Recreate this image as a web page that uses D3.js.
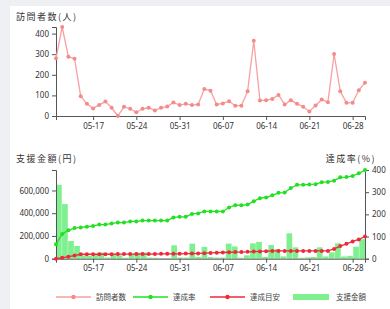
<!DOCTYPE html>
<html>
<head>
<meta charset="utf-8">
<script src="https://cdn.jsdelivr.net/npm/d3@7"></script>
<style>
body { margin: 0; background: #eef0f4; font-family: "Noto Sans CJK JP", "Noto Sans", sans-serif; }
.axis text { font-size: 8px; fill: #333; font-family: "Noto Sans", sans-serif; }
.axis path, .axis line { stroke: #555; }
.title { font-size: 9px; fill: #333; letter-spacing: 1.5px; }
.leg { font-size: 7.5px; fill: #444; }
</style>
</head>
<body>
<script>
var w = 390;
var h = 309;

var days = ["05-11","05-12","05-13","05-14","05-15","05-16","05-17","05-18","05-19","05-20",
    "05-21","05-22","05-23","05-24","05-25","05-26","05-27","05-28","05-29","05-30","05-31",
    "06-01","06-02","06-03","06-04","06-05","06-06","06-07","06-08","06-09","06-10",
    "06-11","06-12","06-13","06-14","06-15","06-16","06-17","06-18","06-19","06-20",
    "06-21","06-22","06-23","06-24","06-25","06-26","06-27","06-28","06-29","06-30"];
var tickDays = ["05-17","05-24","05-31","06-07","06-14","06-21","06-28"];

var visitors = [280,432,288,278,96,59,37,54,70,40,0,45,35,18,35,40,27,40,46,66,53,
    59,53,56,131,123,56,61,72,50,50,120,365,75,77,83,102,56,77,59,45,22,51,80,67,301,120,64,64,125,162];
var rate = [65,111,128,138,141,144,148,154,154,159,163,163,168,168,172,172,172,172,172,186,189,
    189,202,204,213,213,213,213,231,241,241,244,259,273,276,286,297,298,319,333,333,335,336,345,346,352,367,368,373,385,400];
var target = [0,4,9,14,20,20,20,20,20,20,21,21,21,21,21,21,21,22,22,22,22,
    23,23,24,25,26,27,28,29,30,30,31,32,33,34,35,35,35,35,35,35,35,35,35,35,44,57,67,78,87,100];
var amount = [650000,480000,155000,112000,30000,25000,35000,55000,10000,40000,30000,8000,40000,55000,55000,10000,8000,5000,5000,118000,10000,
    10000,132000,15000,103000,15000,10000,10000,133000,108000,8000,30000,135000,148000,15000,120000,85000,20000,223000,100000,8000,12000,15000,100000,20000,56000,135000,20000,25000,105000,172000];

var pink = "#f7a1a1", pinkDot = "#f48a8a";
var green = "#22e022", red = "#ee2a3a", barCol = "#7ff08f";

var svg = d3.select("body").append("svg").attr("width", w).attr("height", h);
svg.append("rect").attr("x", 10).attr("y", 6).attr("width", w - 10).attr("height", h - 6).attr("fill", "#fff");

var x = d3.scalePoint().domain(days).range([56, 365]);
var xb = d3.scaleBand().domain(days).range([56, 365]).paddingInner(0.06);

// top: visitors
var y1 = d3.scaleLinear().domain([0, d3.max(visitors)]).range([116, 27]);

svg.append("text").attr("class", "title").attr("x", 16).attr("y", 20).text("訪問者数(人)");

svg.append("g").attr("class", "axis").attr("transform", "translate(0,116)")
    .call(d3.axisBottom(x).tickValues(tickDays).tickSize(4).tickSizeOuter(4));
svg.append("g").attr("class", "axis").attr("transform", "translate(56,0)")
    .call(d3.axisLeft(y1).ticks(4).tickSize(4).tickSizeOuter(4));

svg.append("path").datum(visitors)
    .attr("fill", "none").attr("stroke", pink).attr("stroke-width", 1.3)
    .attr("d", d3.line().x((d, i) => x(days[i])).y(d => y1(d)));
svg.append("g").selectAll("circle").data(visitors).enter().append("circle")
    .attr("cx", (d, i) => x(days[i])).attr("cy", d => y1(d)).attr("r", 2).attr("fill", pinkDot);

// bottom: amount + rate
var y2 = d3.scaleLinear().domain([0, d3.max(amount) * 1.2]).range([258.7, 170]);
var y3 = d3.scaleLinear().domain([0, 400]).range([258.7, 170]);

svg.append("text").attr("class", "title").attr("x", 16).attr("y", 162).text("支援金額(円)");
svg.append("text").attr("class", "title").attr("x", 376).attr("y", 162).attr("text-anchor", "end").text("達成率(%)");

svg.append("g").selectAll("rect").data(amount).enter().append("rect")
    .attr("x", (d, i) => xb(days[i])).attr("width", xb.bandwidth())
    .attr("y", d => y2(d)).attr("height", d => y2(0) - y2(d))
    .attr("fill", barCol);

svg.append("g").attr("class", "axis").attr("transform", "translate(0,258.7)")
    .call(d3.axisBottom(x).tickValues(tickDays).tickSize(4).tickSizeOuter(4));
svg.append("g").attr("class", "axis").attr("transform", "translate(56,0)")
    .call(d3.axisLeft(y2).tickValues([0, 200000, 400000, 600000]).tickFormat(d3.format(",")).tickSize(4).tickSizeOuter(4));
svg.append("g").attr("class", "axis").attr("transform", "translate(365,0)")
    .call(d3.axisRight(y3).tickValues([0, 100, 200, 300, 400]).tickSize(4).tickSizeOuter(4));

function series(vals, col) {
    svg.append("path").datum(vals)
        .attr("fill", "none").attr("stroke", col).attr("stroke-width", 1.3)
        .attr("d", d3.line().x((d, i) => x(days[i])).y(d => y3(d)));
    svg.append("g").selectAll("circle").data(vals).enter().append("circle")
        .attr("cx", (d, i) => x(days[i])).attr("cy", d => y3(d)).attr("r", 2).attr("fill", col);
}
series(rate, green);
series(target, red);

// legend
var legend = [
    { name: "訪問者数", type: "line", col: pink, dot: pinkDot, x: 56 },
    { name: "達成率", type: "line", col: green, dot: green, x: 133 },
    { name: "達成目安", type: "line", col: red, dot: red, x: 210 },
    { name: "支援金額", type: "rect", col: barCol, x: 293 }
];
var lg = svg.append("g").selectAll("g").data(legend).enter().append("g");
lg.each(function (d) {
    var g = d3.select(this);
    if (d.type === "line") {
        g.append("line").attr("x1", d.x).attr("x2", d.x + 35).attr("y1", 297).attr("y2", 297)
            .attr("stroke", d.col).attr("stroke-width", 1.3);
        g.append("circle").attr("cx", d.x + 17.5).attr("cy", 297).attr("r", 2.2).attr("fill", d.dot);
        g.append("text").attr("class", "leg").attr("x", d.x + 40).attr("y", 300).text(d.name);
    } else {
        g.append("rect").attr("x", d.x).attr("y", 294).attr("width", 36).attr("height", 6).attr("fill", d.col);
        g.append("text").attr("class", "leg").attr("x", d.x + 43).attr("y", 300).text(d.name);
    }
});
</script>
</body>
</html>
